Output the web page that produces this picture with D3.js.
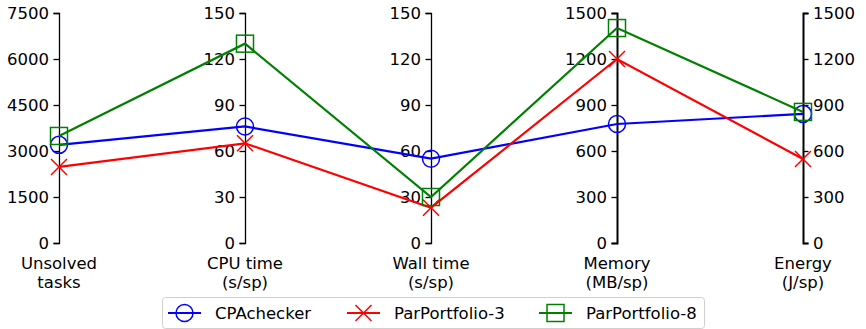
<!DOCTYPE html>
<html>
<head>
<meta charset="utf-8">
<script src="https://cdn.jsdelivr.net/npm/d3@7"></script>
<style>
  body { margin: 0; background: #fff; }
  svg text { font-family: "DejaVu Sans", sans-serif; }
</style>
</head>
<body>
<div id="chart"></div>
<script>
const w = 866, h = 329;

// axes (dimensions) of the parallel plot
const dims = ["unsolved", "cpu", "wall", "memory", "energy"];
const dimLabels = [["Unsolved", "tasks"], ["CPU time", "(s/sp)"], ["Wall time", "(s/sp)"], ["Memory", "(MB/sp)"], ["Energy", "(J/sp)"]];
const dimMax = [7500, 150, 150, 1500, 1500];
const dimTicks = [
    [0, 1500, 3000, 4500, 6000, 7500],
    [0, 30, 60, 90, 120, 150],
    [0, 30, 60, 90, 120, 150],
    [0, 300, 600, 900, 1200, 1500],
    [0, 300, 600, 900, 1200, 1500]
];

const seriesNames = ["CPAchecker", "ParPortfolio-3", "ParPortfolio-8"];
const cpachecker = [3200, 76, 55, 776, 842];
const parPortfolio3 = [2480, 65, 23, 1200, 548];
const parPortfolio8 = [3490, 130, 30, 1402, 855];
const seriesValues = [cpachecker, parPortfolio3, parPortfolio8];

const colors = ["#0000ff", "#ff0000", "#008000"];
const markers = ["circle", "x", "square"];

const yTop = 13, yBottom = 243;

const svg = d3.select("#chart").append("svg")
    .attr("width", w)
    .attr("height", h);

const xScale = d3.scalePoint()
    .domain(dims)
    .range([59, 803]);

const yScales = dims.map((d, i) => d3.scaleLinear()
    .domain([0, dimMax[i]])
    .range([yBottom, yTop]));

// axes
dims.forEach((d, i) => {
    const last = i === dims.length - 1;
    const axis = (last ? d3.axisRight(yScales[i]) : d3.axisLeft(yScales[i]))
        .tickValues(dimTicks[i])
        .tickFormat(d3.format("d"))
        .tickSize(5.5)
        .tickPadding(4.5);
    const g = svg.append("g")
        .attr("transform", `translate(${xScale(d)},0)`)
        .call(axis);
    g.select(".domain").attr("stroke-width", i >= 3 ? 2 : 1.3);
    g.selectAll(".tick line").attr("stroke-width", 1.3);
    g.selectAll("text")
        .attr("font-size", 16.5)
        .attr("fill", "#000")
        .attr("font-family", "DejaVu Sans, sans-serif");

    const lab = svg.append("text")
        .attr("x", xScale(d))
        .attr("y", 269)
        .attr("text-anchor", "middle")
        .attr("font-size", 16.5);
    dimLabels[i].forEach((t, j) => {
        lab.append("tspan")
            .attr("x", xScale(d))
            .attr("dy", j === 0 ? 0 : 19)
            .text(t);
    });
});

const drawMarker = (g, type, x, y, color) => {
    if (type === "circle") {
        g.append("circle").attr("cx", x).attr("cy", y).attr("r", 8.5)
            .attr("fill", "none").attr("stroke", color).attr("stroke-width", 1.5);
    } else if (type === "x") {
        const s = 8;
        g.append("path")
            .attr("d", `M${x - s},${y - s}L${x + s},${y + s}M${x - s},${y + s}L${x + s},${y - s}`)
            .attr("stroke", color).attr("stroke-width", 1.5).attr("fill", "none");
    } else {
        g.append("rect").attr("x", x - 8.5).attr("y", y - 8.5)
            .attr("width", 17).attr("height", 17)
            .attr("fill", "none").attr("stroke", color).attr("stroke-width", 1.5);
    }
};

const line = d3.line()
    .x((v, i) => xScale(dims[i]))
    .y((v, i) => yScales[i](v));

seriesValues.forEach((vals, k) => {
    const g = svg.append("g");
    g.append("path")
        .attr("d", line(vals))
        .attr("fill", "none")
        .attr("stroke", colors[k])
        .attr("stroke-width", 2.2);
    vals.forEach((v, i) => drawMarker(g, markers[k], xScale(dims[i]), yScales[i](v), colors[k]));
});

// legend
const legend = svg.append("g");
legend.append("rect")
    .attr("x", 162.5).attr("y", 297.5)
    .attr("width", 542).attr("height", 31)
    .attr("rx", 3)
    .attr("fill", "#fff")
    .attr("stroke", "#d0d0d0");
const legendX = [168, 347, 539];
seriesNames.forEach((name, k) => {
    const x0 = legendX[k], yl = 313;
    legend.append("line")
        .attr("x1", x0).attr("x2", x0 + 33)
        .attr("y1", yl).attr("y2", yl)
        .attr("stroke", colors[k]).attr("stroke-width", 2.2);
    drawMarker(legend, markers[k], x0 + 16.5, yl, colors[k]);
    legend.append("text")
        .attr("x", x0 + 47)
        .attr("y", yl + 6)
        .attr("font-size", 16.5)
        .text(name);
});
</script>
</body>
</html>
